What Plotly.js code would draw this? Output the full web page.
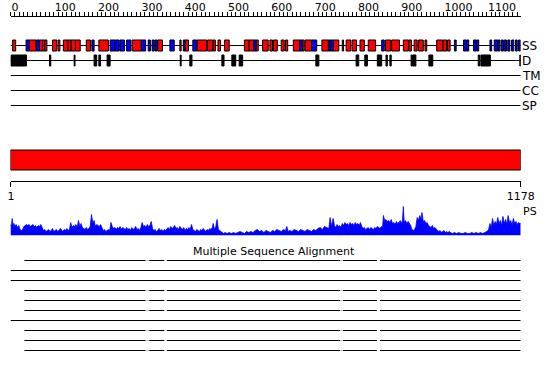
<!DOCTYPE html>
<html><head><meta charset="utf-8">
<script src="https://cdn.plot.ly/plotly-3.0.1.min.js"></script>
<style>html,body{margin:0;padding:0;background:#fff}#chart{width:550px;height:380px}</style>
</head><body><div id="chart"></div>
<script>
const seqLength = 1178;
// Secondary structure: helices (red) and strands (blue), residue ranges
const ssHelix = [[5,12],[43,59],[67,74],[74,79],[79,84],[97,107],[110,114],[122,133],[133,140],[140,150],[150,161],[175,185],[204,226],[281,302],[340,351],[391,394],[403,411],[431,453],[455,467],[468,473],[479,485],[494,505],[540,551],[551,561],[567,572],[582,595],[599,605],[607,616],[625,632],[635,640],[653,668],[674,678],[680,695],[719,734],[745,758],[766,769],[775,786],[789,799],[807,817],[826,843],[866,878],[880,898],[907,919],[920,926],[932,939],[942,953],[957,961],[984,998],[999,1007],[1009,1015]];
const ssStrand = [[36,43],[60,67],[188,193],[230,241],[241,251],[253,263],[268,278],[302,312],[318,323],[327,332],[334,339],[368,378],[399,403],[421,430],[561,567],[668,674],[695,707],[734,738],[738,745],[857,863],[1025,1029],[1046,1052],[1053,1058],[1069,1075],[1076,1081],[1107,1111],[1117,1125],[1126,1130],[1133,1138],[1140,1145],[1148,1153],[1157,1162],[1166,1170],[1173,1177]];
// Disorder
const disorder = [[1,37],[90,93],[147,149],[193,199],[204,208],[223,230],[392,394],[414,419],[488,493],[511,520],[528,536],[705,712],[798,804],[818,824],[847,857],[867,870],[876,879],[925,928],[929,936],[966,975],[1080,1083],[1086,1108],[1176,1178]];
// Domain bar
const domainRanges = [[0,1178]];
// Profile (PS)
const psPos = [0,2,4,6,8,10,13,16,19,22,25,28,31,34,37,40,43,46,49,52,55,58,61,64,67,70,73,76,79,82,85,88,91,94,97,100,103,106,109,112,115,118,121,124,127,130,133,136,139,142,145,148,151,154,157,160,163,166,169,172,175,178,181,184,187,190,193,196,199,202,205,208,211,214,217,220,223,226,229,232,235,238,241,244,247,250,253,256,259,262,265,268,271,274,277,280,283,286,289,292,295,298,301,304,307,310,313,316,319,322,325,328,331,334,337,340,343,346,349,352,355,358,361,364,367,370,373,376,379,382,385,388,391,394,397,400,403,406,409,412,415,418,421,424,427,430,433,436,439,442,445,448,451,454,457,460,463,466,468,471,474,477,480,483,486,489,492,495,500,505,510,515,520,525,530,535,540,545,550,555,560,565,570,575,580,585,590,595,600,605,610,615,620,625,630,635,638,641,645,650,655,660,665,670,675,680,685,690,695,700,705,710,715,720,725,730,735,738,741,745,748,751,754,757,760,763,766,769,772,775,778,781,784,787,790,793,796,799,802,805,808,811,814,817,820,823,826,829,832,835,838,841,844,847,850,853,856,859,861,864,867,870,873,876,879,882,885,888,891,894,897,900,903,905,907,909,912,915,918,921,924,927,930,933,936,939,942,945,948,950,953,956,959,962,965,968,971,974,977,980,983,986,989,992,995,998,1001,1004,1007,1010,1013,1016,1020,1025,1030,1035,1040,1045,1050,1055,1060,1065,1070,1075,1080,1085,1090,1095,1100,1104,1107,1110,1113,1116,1119,1122,1125,1128,1131,1134,1137,1140,1143,1146,1149,1152,1155,1158,1161,1164,1167,1170,1173,1176,1178];
const psVal = [11,9,17,10,12,9,11,8,10,6,5,6,9,10,11,10,11,9,10,11,9,10,8,10,9,11,8,5,6,4,5,6,4,5,7,4,5,6,4,5,7,5,4,6,5,7,5,6,13,8,10,9,11,8,15,9,12,8,7,6,8,6,7,9,21,12,15,9,11,10,9,11,7,5,6,4,5,6,5,13,9,7,8,6,8,7,9,6,8,7,6,8,6,7,5,8,6,7,9,6,7,5,8,13,9,10,8,11,9,10,14,7,5,6,4,5,7,5,6,4,6,5,7,8,6,9,7,8,10,7,8,6,9,7,6,8,5,7,6,8,6,11,6,5,4,6,5,4,6,5,7,5,4,6,5,7,6,8,12,6,9,16,6,5,4,3,2,3,2,3,2,3,2,3,4,3,2,4,3,4,3,5,6,4,5,3,5,4,3,5,4,6,5,4,6,5,9,4,5,4,6,5,4,6,5,4,6,5,4,6,5,7,8,6,9,8,7,18,9,17,10,8,11,9,10,8,12,10,13,11,12,10,13,11,12,10,13,11,12,10,13,9,7,8,6,7,8,6,8,7,6,8,7,9,8,7,9,8,20,15,16,14,15,13,16,12,13,11,14,12,13,15,12,15,29,13,15,12,14,12,10,6,5,6,9,18,15,20,16,23,14,15,12,13,10,9,8,10,7,8,6,5,4,5,3,4,5,3,4,3,4,3,2,3,2,3,2,2,3,2,2,3,2,3,2,3,2,3,4,6,12,8,17,10,14,11,18,12,15,10,19,12,16,11,20,13,15,10,17,12,14,11,13,12,12];
// Multiple sequence alignment rows
const msaRowKind = ['gapped','full','full','gapped','gapped','gapped','full','gapped','gapped','gapped'];
const msaFull = [[0,1178]];
const msaAligned = [[32,312],[320,355],[361,761],[767,846],[853,1178]];
const msaGapped = [[312,320],[761,767]];
const trackNames = ['SS','D','TM','CC','SP'];
const bottomTicks = [1,1178];

// ---- layout positions (pixels from top) ----
const trackY = {SS:45.5, D:60.5, TM:75.5, CC:90.5, SP:105.5};
const font = 'DejaVu Sans';

function boxTrace(ranges, yc, h, color){
  return {type:'bar', orientation:'h', base:ranges.map(r=>r[0]), x:ranges.map(r=>r[1]-r[0]),
    y:ranges.map(()=>yc), width:ranges.map(()=>h), xaxis:'x', yaxis:'y',
    marker:{color:color, line:{color:'#000', width:1}}, hoverinfo:'skip', showlegend:false};
}
function segTrace(rows, segs, color){
  const xs=[], ys=[];
  rows.forEach(y=>{ segs.forEach(s=>{ xs.push(s[0], s[1], null); ys.push(y, y, null); }); });
  return {type:'scatter', mode:'lines', x:xs, y:ys, xaxis:'x', yaxis:'y',
    line:{color:color, width:1.2}, hoverinfo:'skip', showlegend:false};
}
const rowY = msaRowKind.map((k,i)=>260.5+10*i);
const fullRows = rowY.filter((y,i)=>msaRowKind[i]==='full');
const gapRows = rowY.filter((y,i)=>msaRowKind[i]==='gapped');

const traces = [
  boxTrace(ssHelix, trackY.SS, 11, '#ff0000'),
  boxTrace(ssStrand, trackY.SS, 11, '#0000ff'),
  boxTrace(disorder, trackY.D, 11, '#000000'),
  boxTrace(domainRanges, 160, 20, '#ff0000'),
  {type:'scatter', mode:'lines', x:psPos, y:psVal, xaxis:'x', yaxis:'y2', fill:'tozeroy',
   fillcolor:'#0000ff', line:{color:'#0000ff', width:0.8}, hoverinfo:'skip', showlegend:false},
  segTrace(fullRows, msaFull, '#000'),
  segTrace(gapRows, msaAligned, '#000'),
  segTrace(gapRows, msaGapped, '#c8c8c8'),
  {type:'scatter', mode:'none', x:bottomTicks, y:[180.5,180.5], xaxis:'x2', yaxis:'y', hoverinfo:'skip', showlegend:false}
];

const shapes = trackNames.map(n=>({type:'line', layer:'below', xref:'x', yref:'y',
  x0:0, x1:seqLength, y0:trackY[n], y1:trackY[n], line:{color:'#000', width:1.2}}));

const annotations = trackNames.map(n=>({text:n, xref:'x', yref:'y', x:seqLength, y:trackY[n],
  xanchor:'left', yanchor:'middle', showarrow:false, xshift:-1, font:{family:font, size:12, color:'#000'}}));
annotations.push({text:'PS', xref:'x', yref:'y', x:seqLength, y:211, xanchor:'left', yanchor:'middle',
  showarrow:false, font:{family:font, size:11, color:'#000'}});
annotations.push({text:'Multiple Sequence Alignment', xref:'paper', yref:'y', x:0.4973, y:251.5,
  xanchor:'center', yanchor:'middle', showarrow:false, font:{family:font, size:11, color:'#000'}});

const dom = [10.5/550, 520.7/550];
const layout = {
  width:550, height:380, margin:{l:0,r:0,t:0,b:0,pad:0}, paper_bgcolor:'#fff', plot_bgcolor:'#fff',
  showlegend:false, barmode:'overlay', bargap:0,
  xaxis:{domain:dom, range:[0,seqLength], anchor:'free', position:1-15.5/380, side:'top',
    showline:true, linecolor:'#000', linewidth:1, ticks:'outside', ticklen:4, tickwidth:1, tickcolor:'#000',
    tick0:0, dtick:100, ticklabelposition:'outside right', tickfont:{family:font, size:11, color:'#000'},
    minor:{dtick:10, ticks:'outside', ticklen:4, tickwidth:1, tickcolor:'#000', showgrid:false},
    showgrid:false, zeroline:false, fixedrange:true},
  xaxis2:{overlaying:'x', range:[0,seqLength], anchor:'free', position:1-180.5/380, side:'bottom',
    showline:true, linecolor:'#000', linewidth:1, ticks:'outside', ticklen:5, tickwidth:1, tickcolor:'#000',
    tickmode:'array', tickvals:bottomTicks, ticktext:bottomTicks.map(String),
    tickfont:{family:font, size:11, color:'#000'}, showgrid:false, zeroline:false, fixedrange:true},
  yaxis:{domain:[0,1], range:[380,0], visible:false, fixedrange:true},
  yaxis2:{domain:[1-235.5/380, 1-205.5/380], range:[0,30], visible:false, anchor:'x', fixedrange:true},
  shapes:shapes, annotations:annotations
};
Plotly.newPlot('chart', traces, layout, {displayModeBar:false, staticPlot:true});
</script></body></html>
